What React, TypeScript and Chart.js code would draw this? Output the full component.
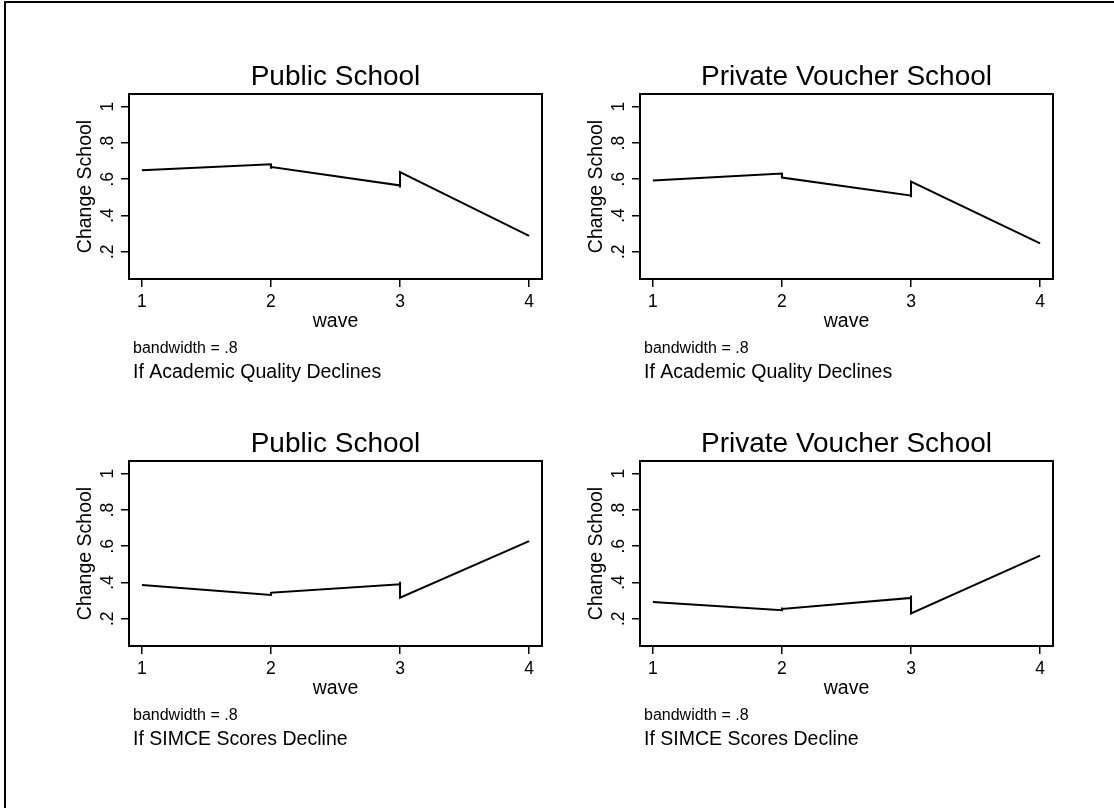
import React, { useEffect, useRef } from "react";
import { Chart, registerables } from "chart.js";

Chart.register(...registerables);

// ---- data ----
const xTicks = [1, 2, 3, 4];
const yTicks = [0.2, 0.4, 0.6, 0.8, 1];
const yTickLabels = [".2", ".4", ".6", ".8", "1"];

const publicAcademicWave = [1, 2, 2, 2, 3, 3, 3, 4];
const publicAcademicChange = [0.65, 0.683, 0.658, 0.668, 0.566, 0.554, 0.639, 0.288];

const privateAcademicWave = [1, 2, 2, 3, 3, 3, 4];
const privateAcademicChange = [0.593, 0.631, 0.609, 0.51, 0.501, 0.587, 0.246];

const publicSimceWave = [1, 2, 2, 2, 3, 3, 3, 4];
const publicSimceChange = [0.386, 0.331, 0.348, 0.344, 0.39, 0.404, 0.316, 0.628];

const privateSimceWave = [1, 2, 2, 2, 3, 3, 3, 4];
const privateSimceChange = [0.293, 0.247, 0.262, 0.254, 0.315, 0.328, 0.229, 0.548];

const panelTitles = ["Public School", "Private Voucher School", "Public School", "Private Voucher School"];
const panelCaptions = [
  "If Academic Quality Declines",
  "If Academic Quality Declines",
  "If SIMCE Scores Decline",
  "If SIMCE Scores Decline",
];
const xAxisTitle = "wave";
const yAxisTitle = "Change School";
const noteText = "bandwidth = .8";

const FONT = '"Liberation Sans", Arial, Helvetica, sans-serif';

const CANVAS_W = 548;
const CANVAS_H = 392;
const AREA_LEFT = 129;
const AREA_TOP = 94;
const AREA_RIGHT = 542;
const AREA_BOTTOM = 279;

const textPlugin = {
  id: "stataText",
  afterDraw(chart: any, _args: any, opts: any) {
    const { ctx, chartArea: ca } = chart;
    const xs = chart.scales.x;
    const ys = chart.scales.y;
    ctx.save();
    // plot box
    ctx.strokeStyle = "#000";
    ctx.lineWidth = 2;
    ctx.strokeRect(ca.left, ca.top, ca.right - ca.left, ca.bottom - ca.top);

    ctx.fillStyle = "#000";
    ctx.textBaseline = "alphabetic";
    const cx = (ca.left + ca.right) / 2;
    const cy = (ca.top + ca.bottom) / 2;

    // title
    ctx.font = `28px ${FONT}`;
    ctx.textAlign = "center";
    ctx.fillText(opts.title, cx, ca.top - 9);

    // x tick labels
    ctx.font = `17.5px ${FONT}`;
    xTicks.forEach((v) => {
      ctx.fillText(String(v), xs.getPixelForValue(v), ca.bottom + 28);
    });

    // x title
    ctx.font = `19.5px ${FONT}`;
    ctx.fillText(xAxisTitle, cx, ca.bottom + 48);

    // y tick labels (rotated)
    ctx.font = `17.5px ${FONT}`;
    yTicks.forEach((v, i) => {
      ctx.save();
      ctx.translate(ca.left - 16, ys.getPixelForValue(v));
      ctx.rotate(-Math.PI / 2);
      ctx.textAlign = "center";
      ctx.fillText(yTickLabels[i], 0, 0);
      ctx.restore();
    });

    // y title
    ctx.font = `19.5px ${FONT}`;
    ctx.save();
    ctx.translate(ca.left - 38, cy);
    ctx.rotate(-Math.PI / 2);
    ctx.textAlign = "center";
    ctx.fillText(yAxisTitle, 0, 0);
    ctx.restore();

    // notes
    ctx.textAlign = "left";
    ctx.font = `16px ${FONT}`;
    ctx.fillText(noteText, ca.left + 4, ca.bottom + 74);
    ctx.font = `19.5px ${FONT}`;
    ctx.fillText(opts.caption, ca.left + 4, ca.bottom + 99);
    ctx.restore();
  },
};

function Panel(props: { wave: number[]; change: number[]; title: string; caption: string; left: number; top: number }) {
  const ref = useRef<HTMLCanvasElement | null>(null);
  useEffect(() => {
    if (!ref.current) return;
    const chart = new Chart(ref.current, {
      type: "line",
      data: {
        datasets: [
          {
            data: props.wave.map((w, i) => ({ x: w, y: props.change[i] })),
            borderColor: "#000",
            borderWidth: 2,
            pointRadius: 0,
            tension: 0,
            fill: false,
          },
        ],
      },
      options: {
        responsive: false,
        animation: false,
        events: [],
        layout: {
          padding: {
            left: 0,
            top: AREA_TOP,
            right: CANVAS_W - AREA_RIGHT,
            bottom: 0,
          },
        },
        plugins: {
          legend: { display: false },
          title: { display: false },
          tooltip: { enabled: false },
          stataText: { title: props.title, caption: props.caption },
        } as any,
        scales: {
          x: {
            type: "linear",
            min: 0.9,
            max: 4.1,
            afterBuildTicks: (s: any) => {
              s.ticks = xTicks.map((v) => ({ value: v }));
            },
            afterFit: (s: any) => {
              s.height = CANVAS_H - AREA_BOTTOM;
            },
            ticks: { display: false },
            grid: {
              display: true,
              drawOnChartArea: false,
              drawTicks: true,
              tickLength: 8,
              color: "#000",
              lineWidth: 1.5,
            },
            border: { display: false },
          },
          y: {
            type: "linear",
            min: 0.05,
            max: 1.07,
            afterBuildTicks: (s: any) => {
              s.ticks = yTicks.map((v) => ({ value: v }));
            },
            afterFit: (s: any) => {
              s.width = AREA_LEFT;
            },
            ticks: { display: false },
            grid: {
              display: true,
              drawOnChartArea: false,
              drawTicks: true,
              tickLength: 8,
              color: "#000",
              lineWidth: 1.5,
            },
            border: { display: false },
          },
        },
      },
      plugins: [textPlugin],
    } as any);
    return () => chart.destroy();
  }, []);
  return (
    <canvas
      ref={ref}
      width={CANVAS_W}
      height={CANVAS_H}
      style={{ position: "absolute", left: props.left, top: props.top, width: CANVAS_W, height: CANVAS_H }}
    />
  );
}

export default function App() {
  return (
    <div
      style={{
        position: "fixed",
        left: 0,
        top: 0,
        width: 1114,
        height: 808,
        overflow: "hidden",
        background: "#fff",
      }}
    >
      <div
        style={{
          position: "absolute",
          left: 4,
          top: 1,
          width: 2000,
          height: 2000,
          borderLeft: "2px solid #000",
          borderTop: "2px solid #000",
        }}
      />
      <Panel wave={publicAcademicWave} change={publicAcademicChange} title={panelTitles[0]} caption={panelCaptions[0]} left={0} top={0} />
      <Panel wave={privateAcademicWave} change={privateAcademicChange} title={panelTitles[1]} caption={panelCaptions[1]} left={511} top={0} />
      <Panel wave={publicSimceWave} change={publicSimceChange} title={panelTitles[2]} caption={panelCaptions[2]} left={0} top={367} />
      <Panel wave={privateSimceWave} change={privateSimceChange} title={panelTitles[3]} caption={panelCaptions[3]} left={511} top={367} />
    </div>
  );
}
